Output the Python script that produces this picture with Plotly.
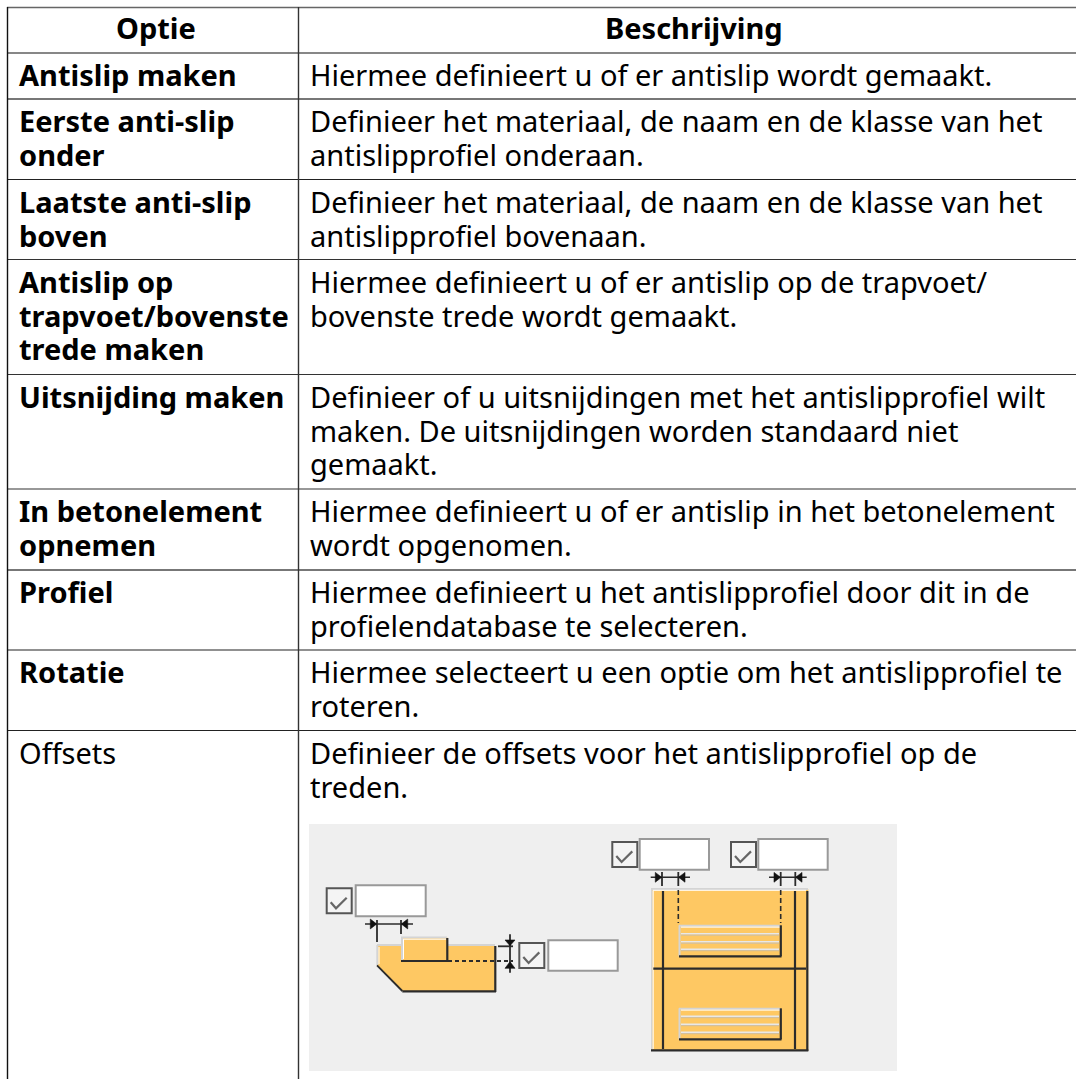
import plotly.graph_objects as go

W, H = 1076, 1079
FONT = "Noto Sans"
FS = 29

headers = ["Optie", "Beschrijving"]
options = [
    ["Antislip maken"],
    ["Eerste anti-slip", "onder"],
    ["Laatste anti-slip", "boven"],
    ["Antislip op", "trapvoet/bovenste", "trede maken"],
    ["Uitsnijding maken"],
    ["In betonelement", "opnemen"],
    ["Profiel"],
    ["Rotatie"],
    ["Offsets"],
]
option_bold = [True, True, True, True, True, True, True, True, False]
descriptions = [
    ["Hiermee definieert u of er antislip wordt gemaakt."],
    ["Definieer het materiaal, de naam en de klasse van het", "antislipprofiel onderaan."],
    ["Definieer het materiaal, de naam en de klasse van het", "antislipprofiel bovenaan."],
    ["Hiermee definieert u of er antislip op de trapvoet/", "bovenste trede wordt gemaakt."],
    ["Definieer of u uitsnijdingen met het antislipprofiel wilt", "maken. De uitsnijdingen worden standaard niet", "gemaakt."],
    ["Hiermee definieert u of er antislip in het betonelement", "wordt opgenomen."],
    ["Hiermee definieert u het antislipprofiel door dit in de", "profielendatabase te selecteren."],
    ["Hiermee selecteert u een optie om het antislipprofiel te", "roteren."],
    ["Definieer de offsets voor het antislipprofiel op de", "treden."],
]
row_lines = [7.5, 53, 99, 179.5, 259.5, 374.5, 489, 570, 650, 730.5]
row_line_color = ["#666", "#111", "#777", "#222", "#333", "#333", "#333", "#777", "#222", "#222"]
row_line_width = [1.6, 1.2, 1.8, 1.2, 1.2, 1.2, 1.2, 1.8, 1.2, 1.2]

ORANGE = "#fec863"
DARK = "#2b2b2b"
LIGHT = "#d4d4d4"

shapes = []
def rect(x0, y0, x1, y1, fill="rgba(0,0,0,0)", line=None, w=0):
    shapes.append(dict(type="rect", xref="x", yref="y", x0=x0, y0=y0, x1=x1, y1=y1,
                       fillcolor=fill, line=dict(color=line or "rgba(0,0,0,0)", width=w), layer="above"))
def seg(x0, y0, x1, y1, c=DARK, w=1.5, dash="solid"):
    shapes.append(dict(type="line", xref="x", yref="y", x0=x0, y0=y0, x1=x1, y1=y1,
                       line=dict(color=c, width=w, dash=dash), layer="above"))
def poly(pts, fill=None, line=None, w=0, close=True):
    p = "M" + " L".join(f"{a},{b}" for a, b in pts) + (" Z" if close else "")
    shapes.append(dict(type="path", xref="x", yref="y", path=p, fillcolor=fill or "rgba(0,0,0,0)",
                       line=dict(color=line or "rgba(0,0,0,0)", width=w), layer="above"))

# table rules
for y, c, w in zip(row_lines, row_line_color, row_line_width):
    seg(7, y, W, y, c, w)
seg(7.5, 7, 7.5, H, "#111", 1.4)
seg(298.5, 7, 298.5, H, "#333", 1.4)

# diagram panel
rect(309, 824, 897, 1071, fill="#efefef")

def checkbox(x0, y0, s=25):
    rect(x0, y0, x0 + s, y0 + s, fill="#f4f4f4", line="#555555", w=2)
    poly([(x0 + 4, y0 + 14), (x0 + 9.3, y0 + 20), (x0 + 20, y0 + 9.4)], line="#666666", w=2.2, close=False)
def inputbox(x0, y0, x1, y1):
    rect(x0, y0, x1, y1, fill="#ffffff", line="#999999", w=2)
def hdim(x0, x1, a, b, y, top, bot_a, bot_b, arrow=6.7):
    seg(x0, y, x1, y, DARK, 1.6)
    seg(a, top, a, bot_a, DARK, 1.8)
    seg(b, top, b, bot_b, DARK, 1.8)
    poly([(a - arrow, y - 4.9), (a - arrow, y + 4.9), (a - 0.3, y)], fill="#111", line="#111", w=0.6)
    poly([(b + arrow, y - 4.9), (b + arrow, y + 4.9), (b + 0.3, y)], fill="#111", line="#111", w=0.6)

# left: cross section
checkbox(326.7, 888.3)
inputbox(355.7, 885.3, 425.7, 916.3)
hdim(365, 413, 377, 401, 924, 920, 942, 934)
poly([(377, 945), (495, 945), (495, 991), (402.3, 991), (377, 965.3)], fill=ORANGE)
seg(377, 945, 401, 945, LIGHT, 2)
seg(447, 945, 495, 945, LIGHT, 2)
seg(377.3, 945, 377.3, 965, LIGHT, 2)
seg(379, 947, 379, 964, "#ffffff", 1)
seg(377, 965.3, 402.3, 991, DARK, 1.8)
seg(402.3, 991.3, 496, 991.3, DARK, 2.2)
seg(495.3, 946, 495.3, 992, DARK, 2.2)
rect(401, 937.3, 447.3, 960.7, fill=ORANGE)
seg(401, 937.6, 447, 937.6, LIGHT, 2)
seg(402, 937.3, 402, 961, LIGHT, 2)
seg(403.5, 939.3, 403.5, 959, "#ffffff", 1)
seg(403, 939.2, 446, 939.2, "#ffffff", 1)
seg(401, 961, 448, 961, DARK, 2.2)
seg(447.3, 938, 447.3, 961, DARK, 2.2)
seg(448, 961, 513, 961, DARK, 1.8, "4px,3px")
seg(498, 946.3, 513, 946.3, DARK, 1.8)
seg(510, 934.3, 510, 972.7, DARK, 1.8)
poly([(505, 940), (515, 940), (510, 945.7)], fill="#111", line="#111", w=0.6)
poly([(505, 968.3), (515, 968.3), (510, 961.7)], fill="#111", line="#111", w=0.6)
checkbox(519.3, 943)
inputbox(548.3, 940.3, 617.7, 970.7)

# right: plan view
checkbox(612.3, 842)
inputbox(639.7, 839, 709, 869.7)
checkbox(731, 842)
inputbox(758.3, 839, 827.7, 869.7)
hdim(650.7, 690, 662, 678.3, 877.3, 872, 886, 886)
hdim(769, 806.7, 780.7, 795.3, 877.3, 872, 886, 886)
rect(651.7, 889, 808.3, 1050.7, fill=ORANGE)
seg(651, 889, 808, 889, LIGHT, 2)
seg(651.8, 889, 651.8, 1050, LIGHT, 1.6)
seg(653.2, 890.5, 653.2, 1049, "#ffffff", 1)
seg(653, 890.3, 806, 890.3, "#ffffff", 1)
seg(663, 891, 663, 1049, DARK, 2.2)
seg(795, 891, 795, 1049, DARK, 2.2)
seg(807.3, 891, 807.3, 1051, DARK, 2.2)
seg(651, 1050.3, 808.3, 1050.3, DARK, 2.2)
seg(653.3, 968.7, 806, 968.7, DARK, 2.2)
seg(678.3, 890, 678.3, 923, DARK, 1.6, "5px,3px")
seg(780.7, 890, 780.7, 923, DARK, 1.6, "5px,3px")
for top, stripes in [(925.3, [933.7, 941.7, 949.3]), (1008.3, [1016.3, 1024.3, 1032.3])]:
    rect(679, top, 780.7, top + 31, fill=ORANGE)
    seg(679, top + 0.4, 780, top + 0.4, LIGHT, 2)
    seg(679.5, top, 679.5, top + 31, LIGHT, 2)
    seg(681, top + 1.8, 780, top + 1.8, "#ffffff", 1)
    for s in stripes:
        seg(681, s, 779, s, "#e8e8e8", 1.6)
        seg(681, s + 1.4, 779, s + 1.4, "#bdbdbd", 0.8)
    seg(679, top + 31, 781.5, top + 31, DARK, 2.2)
    seg(780.8, top, 780.8, top + 31, DARK, 2.2)

ann = []
def text(x, y, s, bold=False, anchor="left"):
    ann.append(dict(x=x, y=y, xref="x", yref="y", text=f"<b>{s}</b>" if bold else s, showarrow=False,
                    xanchor=anchor, yanchor="middle", align=anchor,
                    font=dict(family=FONT, size=FS, color="#000000"), borderpad=0, borderwidth=0))

LH = 33.7
text(155.5, 27.3, headers[0], True, "center")
text(694, 27.3, headers[1], True, "center")
for i, (o, d) in enumerate(zip(options, descriptions)):
    top = row_lines[i + 1]
    for k, s in enumerate(o):
        text(18.5, top + 21.8 + k * LH, s, option_bold[i])
    for k, s in enumerate(d):
        text(309.5, top + 21.8 + k * LH, s)

fig = go.Figure()
fig.update_layout(
    width=W, height=H, margin=dict(l=0, r=0, t=0, b=0),
    paper_bgcolor="#ffffff", plot_bgcolor="#ffffff", showlegend=False,
    xaxis=dict(range=[0, W], visible=False, fixedrange=True),
    yaxis=dict(range=[H, 0], visible=False, fixedrange=True),
    shapes=shapes, annotations=ann,
)
fig.write_html("out.html", config={"displayModeBar": False},
               post_script="document.documentElement.style.overflow='hidden';document.body.style.margin='0';document.body.style.overflow='hidden';")
